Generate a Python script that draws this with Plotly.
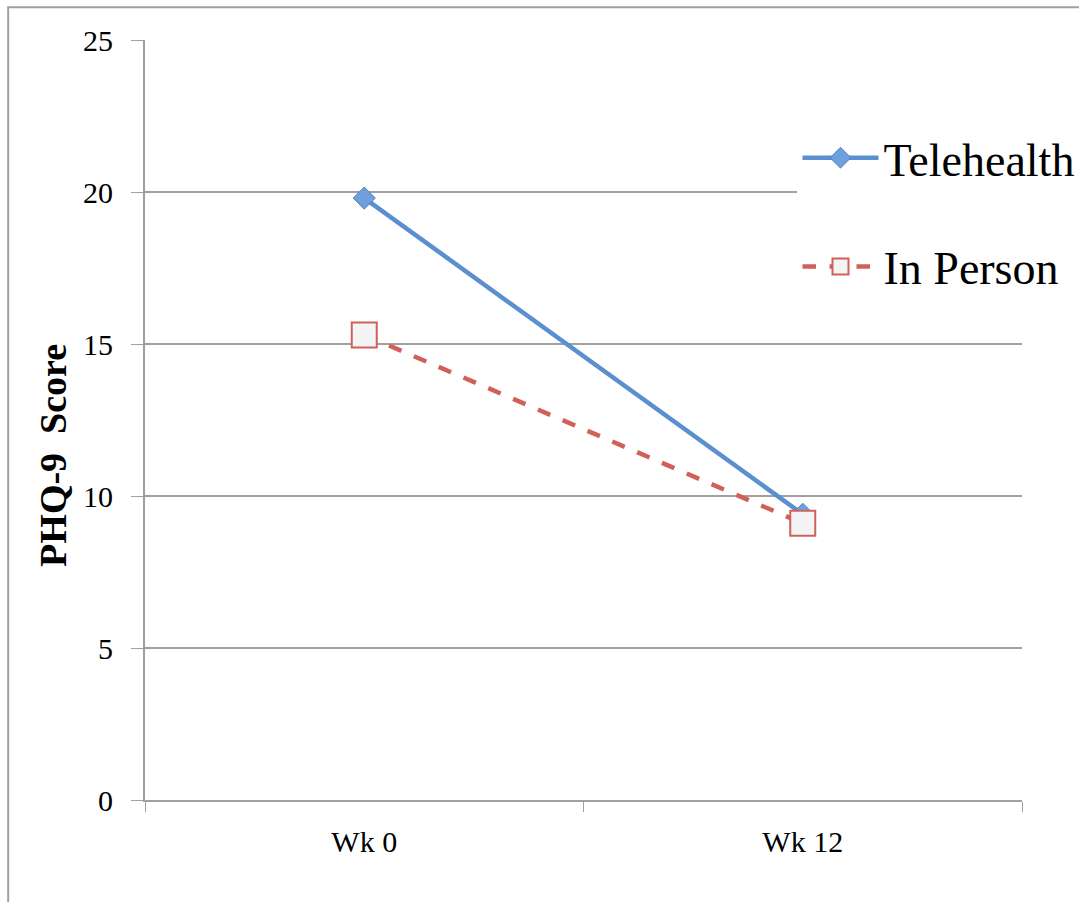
import plotly.graph_objects as go

categories = ["Wk 0", "Wk 12"]
telehealth = [19.8, 9.4]
in_person = [15.3, 9.1]

fig = go.Figure()
fig.add_trace(go.Scatter(
    x=categories, y=telehealth, name="Telehealth", mode="lines+markers", legendgroup="a",
    line=dict(color="#5b8fcf", width=4.5),
    marker=dict(symbol="diamond", size=17, color="#6f9fdc", line=dict(color="#4f81bd", width=1)),
))
fig.add_trace(go.Scatter(
    x=categories, y=in_person, name="In Person", mode="lines+markers", legendgroup="b",
    line=dict(color="#d0605a", width=4.5, dash="dash"),
    marker=dict(symbol="square", size=25, color="#f4f4f4", line=dict(color="#d0605a", width=2)),
))

fig.add_shape(type="rect", xref="paper", yref="paper", x0=-0.156, x1=1.2, y0=-0.3, y1=1.043,
              line=dict(color="#a0a0a0", width=2), fillcolor="rgba(0,0,0,0)", layer="below")

fig.add_annotation(text="<b>PHQ-9  Score</b>", xref="paper", yref="paper", x=-0.105, y=0.454,
                   xanchor="center", yanchor="middle", textangle=-90, showarrow=False,
                   font=dict(size=38, family="Liberation Serif", color="black"))

fig.update_layout(
    width=1079, height=902,
    margin=dict(l=145, r=57, t=40, b=102, autoexpand=False),
    paper_bgcolor="white", plot_bgcolor="white",
    font=dict(family="Liberation Serif", color="black"),
    showlegend=True,
    legend=dict(x=0.744, y=0.893, xanchor="left", yanchor="top", bgcolor="white",
                font=dict(size=46, family="Liberation Serif"), tracegroupgap=46,
                traceorder="grouped", itemwidth=76),
    xaxis=dict(type="category", range=[-0.5, 1.5], tickson="boundaries", ticks="outside",
               ticklen=10, tickcolor="#a0a0a0", showgrid=False, showline=True,
               linecolor="#a0a0a0", linewidth=2, tickfont=dict(size=30), zeroline=False,
               ticklabelstandoff=14),
    yaxis=dict(range=[0, 25], dtick=5, ticks="outside", ticklen=12, tickcolor="#a0a0a0",
               showgrid=True, gridcolor="#a0a0a0", gridwidth=1.5, showline=True,
               linecolor="#a0a0a0", linewidth=2, tickfont=dict(size=30), zeroline=False,
               ticklabelstandoff=12),
)

fig.write_html("out.html", config={"displayModeBar": False},
               post_script="document.body.style.margin='0';")
